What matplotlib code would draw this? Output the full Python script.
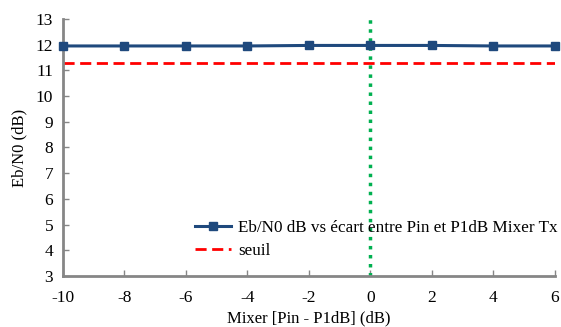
import matplotlib
matplotlib.use("Agg")
import matplotlib.pyplot as plt

x_vals = [-10, -8, -6, -4, -2, 0, 2, 4, 6]
ebn0 = [11.95, 11.95, 11.95, 11.95, 11.97, 11.97, 11.97, 11.95, 11.95]
seuil = [11.3, 11.3]
seuil_x = [-10, 6]
vline_x = 0
xticks = [-10, -8, -6, -4, -2, 0, 2, 4, 6]
yticks = [3, 4, 5, 6, 7, 8, 9, 10, 11, 12, 13]

plt.rcParams['font.family'] = ['Liberation Serif', 'DejaVu Serif']
plt.rcParams['axes.unicode_minus'] = False
fig = plt.figure(figsize=(5.61, 3.27), dpi=100)
ax = fig.add_axes([0.1123, 0.156, 0.877, 0.786])

ax.plot(x_vals, ebn0, color='#1F497D', lw=2.2, marker='s', ms=5.5,
        label='Eb/N0 dB vs écart entre Pin et P1dB Mixer Tx', clip_on=False, zorder=3)
ax.plot(seuil_x, seuil, color='#FF0000', lw=2, ls=(0, (4, 2)), label='seuil', zorder=2)
ax.plot([vline_x, vline_x], [3, 13], color='#00B050', lw=2.5, ls=(0, (1, 1.6)), zorder=2)

ax.set_xlim(-10, 6)
ax.set_ylim(3, 13)
ax.set_xticks(xticks)
ax.set_yticks(yticks)
ax.tick_params(direction='in', length=4, color='#868686', labelsize=12.5, width=1)
ax.tick_params(axis='x', pad=10)
ax.tick_params(axis='y', pad=7)
for s in ['top', 'right']:
    ax.spines[s].set_visible(False)
for s in ['left', 'bottom']:
    ax.spines[s].set_color('#868686')
    ax.spines[s].set_linewidth(2)

ax.set_xlabel('Mixer [Pin - P1dB] (dB)', fontsize=12, labelpad=3)
ax.set_ylabel('Eb/N0 (dB)', fontsize=12, labelpad=6)

ax.legend(loc='lower right', bbox_to_anchor=(1.037, 0.005), frameon=False, fontsize=12.3,
          handlelength=2.1, handletextpad=0.4, labelspacing=0.45)

fig.savefig('out.png', dpi=100)
